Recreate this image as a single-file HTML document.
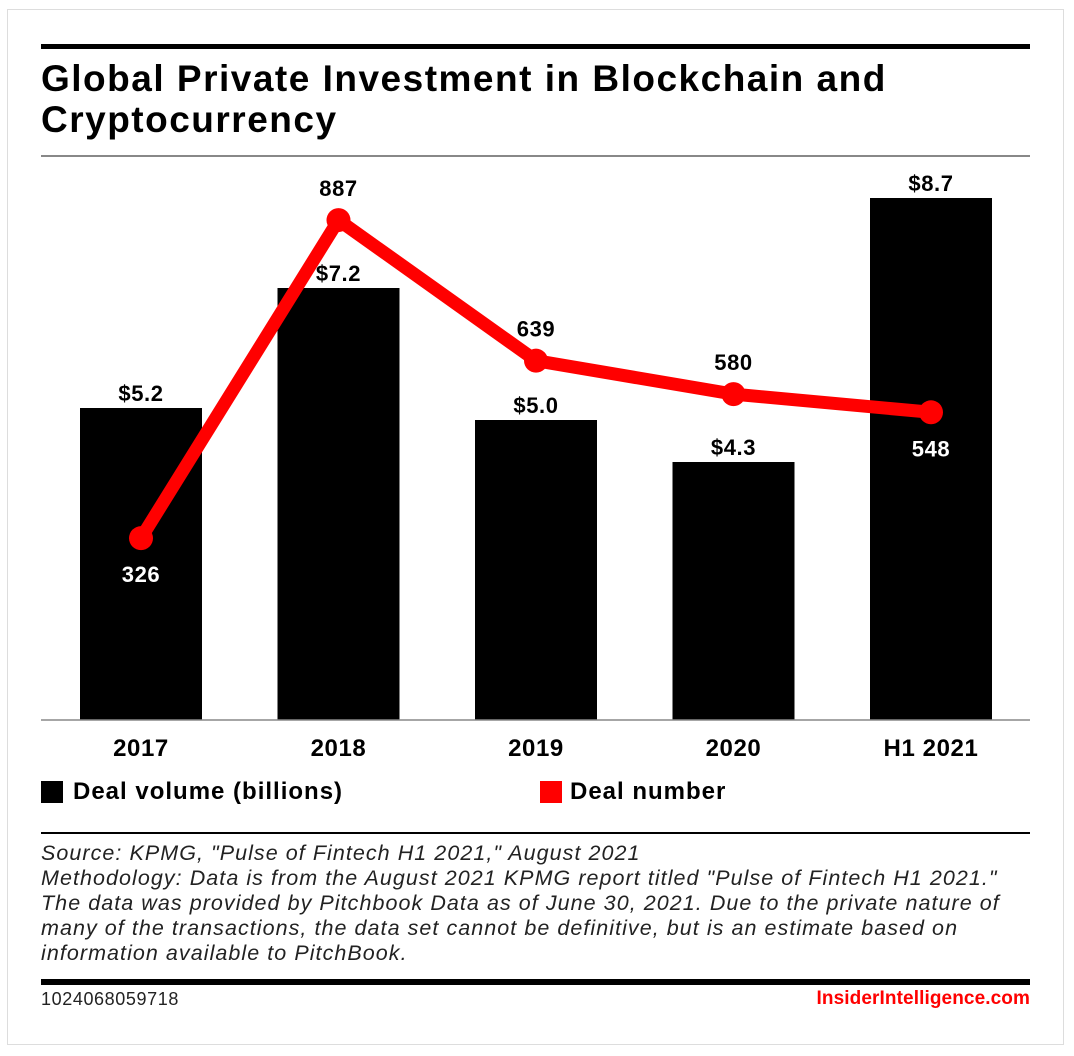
<!DOCTYPE html>
<html><head><meta charset="utf-8"><style>
body{margin:0;background:#fff;font-family:"Liberation Sans",sans-serif;}
#wrap{position:relative;width:1074px;height:1056px;overflow:hidden;}
#frame{position:absolute;left:7px;top:9px;width:1057px;height:1036px;border:1px solid #ddd;box-sizing:border-box;}
.t{position:absolute;white-space:nowrap;}
</style></head><body><div id="wrap">
<div id="frame"></div>
<div class="t" style="left:41px;top:44px;width:989px;height:5px;background:#000"></div>
<div class="t" style="left:41px;top:58px;font-size:37px;font-weight:bold;line-height:41px;letter-spacing:1.5px">Global Private Investment in Blockchain and<br>Cryptocurrency</div>
<div class="t" style="left:41px;top:155px;width:989px;height:2px;background:#888"></div>
<svg id="chart" class="t" style="left:0;top:0" width="1074" height="1056"></svg>
<div class="t" style="left:41px;top:781px;width:22px;height:22px;background:#000"></div>
<div class="t" style="left:73px;top:778px;font-size:24px;font-weight:bold;letter-spacing:1px">Deal volume (billions)</div>
<div class="t" style="left:540px;top:781px;width:22px;height:22px;background:#f00"></div>
<div class="t" style="left:570px;top:778px;font-size:24px;font-weight:bold;letter-spacing:1px">Deal number</div>
<div class="t" style="left:41px;top:832px;width:989px;height:2px;background:#000"></div>
<div class="t" style="left:41px;top:841px;font-size:21.5px;font-style:italic;line-height:25px;color:#222;letter-spacing:1.05px">Source: KPMG, "Pulse of Fintech H1 2021," August 2021<br>Methodology: Data is from the August 2021 KPMG report titled "Pulse of Fintech H1 2021."<br>The data was provided by Pitchbook Data as of June 30, 2021. Due to the private nature of<br>many of the transactions, the data set cannot be definitive, but is an estimate based on<br>information available to PitchBook.</div>
<div class="t" style="left:41px;top:979px;width:989px;height:6px;background:#000"></div>
<div class="t" style="left:41px;top:989px;font-size:18px;color:#222;letter-spacing:0.6px">1024068059718</div>
<div class="t" style="right:44px;top:988px;font-size:19px;font-weight:bold;color:#f00;letter-spacing:0.1px">InsiderIntelligence.com</div>
</div>
<script>
const categories=["2017","2018","2019","2020","H1 2021"];
const volumes=[5.2,7.2,5.0,4.3,8.7];
const volumeLabels=["$5.2","$7.2","$5.0","$4.3","$8.7"];
const dealNumbers=[326,887,639,580,548];
const numberLabelBelow=[true,false,false,false,true];
const svg=document.getElementById('chart');
const NS='http://www.w3.org/2000/svg';
const baseY=720;
function x(i){return 141+i*197.5;}
function yV(v){return baseY-v*60;}
function yN(v){return 723-v*0.567;}
function mk(tag,attrs){const e=document.createElementNS(NS,tag);for(const k in attrs)e.setAttribute(k,attrs[k]);svg.appendChild(e);return e;}
function txt(s,xx,yy,fill,size){const e=mk('text',{x:xx,y:yy,'text-anchor':'middle',fill:fill,'font-size':size,'font-weight':'bold','letter-spacing':'0.6','font-family':'Liberation Sans, sans-serif'});e.textContent=s;return e;}
volumes.forEach((v,i)=>{
  const r=mk('rect',{x:x(i)-61,y:yV(v),width:122,height:baseY-yV(v),fill:'#000'});
  
  
  const t=txt(volumeLabels[i],x(i),yV(v)-7,'#000',22);
  
  
});
const axis=mk('line',{x1:41,x2:1030,y1:baseY,y2:baseY,stroke:'#888','stroke-width':1.5});


categories.forEach((c,i)=>{
  const t=txt(c,x(i),756,'#000',24);
  
  
});
const line=mk('polyline',{points:dealNumbers.map((v,i)=>x(i)+','+yN(v)).join(' '),fill:'none',stroke:'#f00','stroke-width':13,'stroke-linejoin':'round'});


dealNumbers.forEach((v,i)=>{
  const c=mk('circle',{cx:x(i),cy:yN(v),r:12,fill:'#f00'});
  
  
  const below=numberLabelBelow[i];
  const t=txt(String(v),x(i),below?yN(v)+44:yN(v)-24,below?'#fff':'#000',22);
  
  
});
</script></body></html>
